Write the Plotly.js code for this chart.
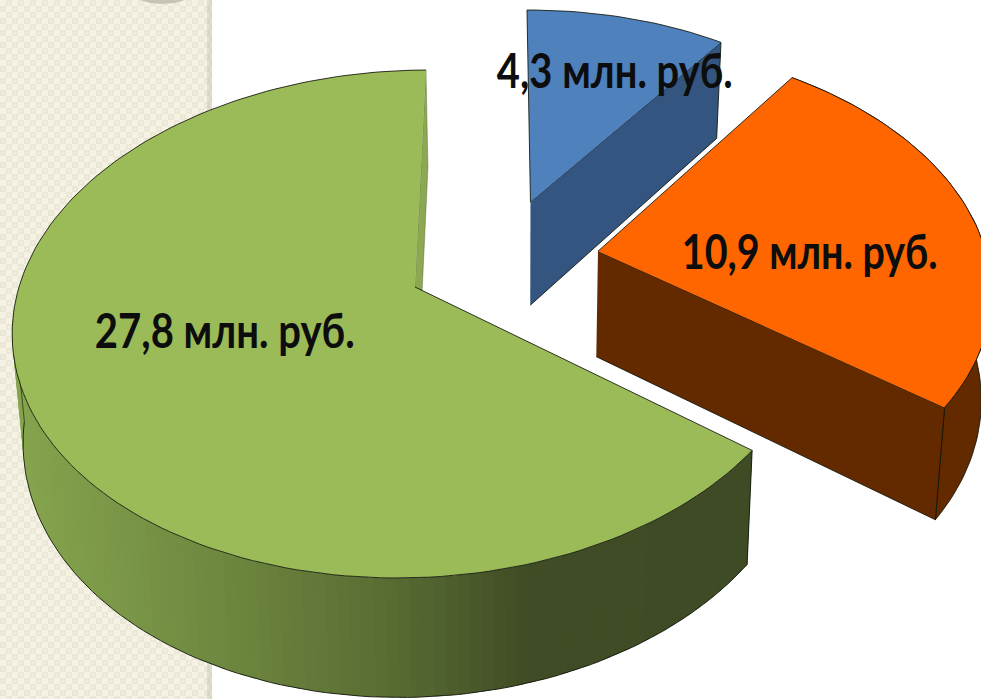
<!DOCTYPE html>
<html>
<head>
<meta charset="utf-8">
<script src="https://cdn.plot.ly/plotly-3.0.1.min.js"></script>
<style>html,body{margin:0;padding:0;background:#fff;overflow:hidden}#chart{width:981px;height:699px}</style>
</head>
<body>
<div id="chart"></div>
<script>
// Chart data
const labels = ['27,8 млн. руб.', '10,9 млн. руб.', '4,3 млн. руб.'];
const values = [27.8, 10.9, 4.3];

// Styles
const topColors = ['#9BBB59', '#FF6600', '#4F81BD'];
const wallColors = ['#8CA853', '#632A00', '#33557F'];
const gradientStops = [[13,[134,165,78]],[240,[108,133,62]],[400,[87,107,50]],[530,[64,76,37]],[760,[63,75,36]]];
const edge = 'rgba(15,20,10,0.85)';
const labelX = [225, 810, 615], labelY = [329, 250, 69], labelWidth = [260, 256, 236];

// Pie geometry and projection (pixel space of the axes)
const W = 981, H = 699;
const cy = 287, ra = 396, rb = 248.6, persp = 0.1457, thick = 107, vanishX = 520, centerX = -105, shrink = 0.022;
const explode = [[0, 0], [0.4663, -0.147], [0.293, -0.36]];
const radius = [1, 1, 0.97];
const rad = Math.PI / 180;
const total = values.reduce((a, b) => a + b, 0);
const sweeps = values.map(v => v / total * 360);
const startDeg = -0.4;

function proj(X, Y, z) {
  const w = 1 - persp * Y;
  let x = vanishX + (centerX + ra * X) / w, y = cy + rb * Y / w;
  if (z) { y += thick * z * Math.pow(w, -0.7); x = vanishX + (x - vanishX) / (1 + shrink * z); }
  return [x, y];
}
const rim = (i, deg, z) => proj(explode[i][0] + radius[i] * Math.sin(deg * rad), explode[i][1] - radius[i] * Math.cos(deg * rad), z);
const apex = (i, z) => proj(explode[i][0], explode[i][1], z);
function poly(pts, fill, line, width) {
  return {type:'scatter', mode:'lines', x:pts.map(p=>p[0]), y:pts.map(p=>p[1]), fill:'toself', fillcolor:fill,
    line:{color:line, width:width===undefined?1:width}, hoverinfo:'skip', showlegend:false};
}
function stroke(pts, line, width) {
  return {type:'scatter', mode:'lines', x:pts.map(p=>p[0]), y:pts.map(p=>p[1]), line:{color:line, width:width||1}, hoverinfo:'skip', showlegend:false};
}
function gradient(x) {
  for (let i = 1; i < gradientStops.length; i++) {
    if (x <= gradientStops[i][0]) {
      const a = gradientStops[i-1], b = gradientStops[i], t = Math.max(0, (x - a[0]) / (b[0] - a[0]));
      return 'rgb(' + a[1].map((c, k) => Math.round(c + (b[1][k] - c) * t)).join(',') + ')';
    }
  }
  return 'rgb(' + gradientStops[gradientStops.length-1][1] + ')';
}
function arc(i, from, to, z) {
  const out = [], n = Math.max(2, Math.ceil(Math.abs(to - from) / 1.5));
  for (let k = 0; k <= n; k++) out.push(rim(i, from + (to - from) * k / n, z));
  return out;
}

// Angles: green runs counter-clockwise from startDeg, blue then orange run clockwise
const spans = [
  [startDeg - sweeps[0] + 360, startDeg + 360],
  [startDeg + sweeps[2], startDeg + sweeps[2] + sweeps[1]],
  [startDeg, startDeg + sweeps[2]]
];

const traces = [];

// Panel decorations above the background pattern
traces.push(poly([[207,0],[212,0],[212,699],[207,699]], 'rgba(150,150,130,0.22)', 'rgba(0,0,0,0)', 0));
const blobX = [140,150,162,175,185], blobY = [0,3,4,3,0];
traces.push(poly(blobX.map((x,i)=>[x,blobY[i]]), '#C6C5B3', 'rgba(0,0,0,0)', 0));

// Blue slice (back)
let s = spans[2];
traces.push(poly([apex(2,0), rim(2,s[1],0), rim(2,s[1],1), apex(2,1)], wallColors[2], edge));
traces.push(poly([apex(2,0)].concat(arc(2,s[0],s[1],0)), topColors[2], edge));

// Orange slice
s = spans[1];
traces.push(poly(arc(1,s[0],s[1],0).concat(arc(1,s[1],s[0],1)), wallColors[1], edge));
traces.push(poly([apex(1,0), rim(1,s[1],0), rim(1,s[1],1), apex(1,1)], wallColors[1], edge));
traces.push(poly([apex(1,0)].concat(arc(1,s[0],s[1],0)), topColors[1], edge));

// Green slice: start-side cut face, shaded outer wall, then top
s = spans[0];
traces.push(poly([apex(0,0), rim(0,s[1],0), rim(0,s[1],1), apex(0,1)], wallColors[0], 'rgba(90,100,60,0.45)'));
const wallStep = 1.5, tangent = 264;
// Drawn from the far left towards the corner, each band overlapping the next so no seams show
for (let a = tangent; a > s[0]; a -= wallStep) {
  const b = Math.max(a - wallStep * 1.6, s[0]);
  const q = [rim(0,a,0), rim(0,b,0), rim(0,b,1), rim(0,a,1)];
  traces.push(poly(q, gradient((q[0][0] + q[1][0]) / 2), 'rgba(0,0,0,0)', 0));
}
traces.push(stroke(arc(0, s[0], tangent, 1), edge));
traces.push(stroke([rim(0,s[0],0), rim(0,s[0],1)], edge));
traces.push(stroke([rim(0,tangent,0), rim(0,tangent,1)], 'rgba(15,20,10,0.6)'));
traces.push(poly([apex(0,0)].concat(arc(0,s[0],s[1],0)), topColors[0], edge));

// Left decorative panel pattern
const tile = "<svg xmlns='http://www.w3.org/2000/svg' width='212' height='699'><defs><pattern id='p' width='12' height='12' patternUnits='userSpaceOnUse'>" +
  "<rect width='12' height='12' fill='#F6F2E3'/><rect x='0' y='6' width='6' height='6' fill='#E9E7D6'/><rect x='2' y='8' width='2' height='2' fill='#F1EEDD'/>" +
  "<rect x='6' y='0' width='6' height='6' fill='#EBE8D8'/><rect x='8' y='2' width='2' height='2' fill='#F4F0E1'/>" +
  "</pattern></defs><rect width='212' height='699' fill='url(#p)'/></svg>";

const layout = {
  width: W, height: H,
  margin: {l:0, r:0, t:0, b:0, pad:0},
  paper_bgcolor: '#fff', plot_bgcolor: 'rgba(0,0,0,0)',
  showlegend: false,
  xaxis: {range:[0,W], visible:false, fixedrange:true},
  yaxis: {range:[H,0], visible:false, fixedrange:true},
  images: [{source:'data:image/svg+xml;charset=utf-8,' + encodeURIComponent(tile), xref:'x', yref:'y', x:0, y:0, sizex:212, sizey:699, sizing:'stretch', layer:'below', xanchor:'left', yanchor:'top'}],
  annotations: labels.map((t, i) => ({text:t, x:labelX[i], y:labelY[i], xref:'x', yref:'y', showarrow:false, xanchor:'center', yanchor:'middle',
    font:{family:'Lato, sans-serif', size:48, color:'#0d0d0d', weight:700}}))
};
Plotly.newPlot('chart', traces, layout, {displayModeBar:false, staticPlot:true}).then(gd => {
  // The reference face is a tall, narrow one: squeeze each label to its measured width about its centre
  gd.querySelectorAll('.annotation-text').forEach((el, i) => {
    const bb = el.getBBox(), c = bb.x + bb.width / 2;
    el.setAttribute('transform', 'translate(' + c + ',0) scale(' + (labelWidth[i] / bb.width) + ',1) translate(' + (-c) + ',0)');
  });
});
</script>
</body>
</html>
